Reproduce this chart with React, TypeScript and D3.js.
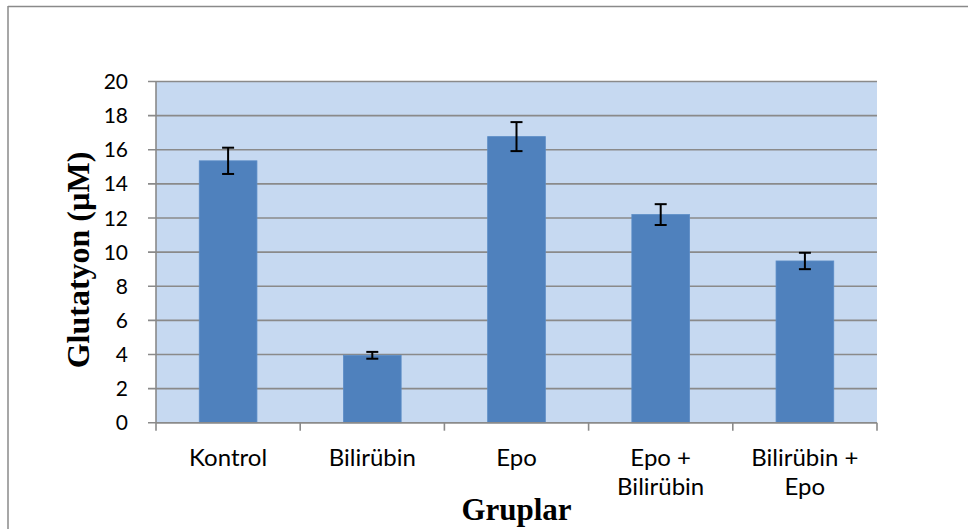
import React from "react";
import * as d3 from "d3";

const categories: string[][] = [["Kontrol"], ["Bilirübin"], ["Epo"], ["Epo +", "Bilirübin"], ["Bilirübin +", "Epo"]];
const values: number[] = [15.35, 3.95, 16.77, 12.2, 9.48];
const errors: number[] = [0.77, 0.2, 0.85, 0.61, 0.48];
const yTicks: number[] = [0, 2, 4, 6, 8, 10, 12, 14, 16, 18, 20];
const yTitle = "Glutatyon (µM)";
const xTitle = "Gruplar";

const W = 968, H = 529;
const plot = { left: 156, right: 877, top: 81.5, bottom: 422.7 };

export default function App() {
  const x = d3.scaleBand<number>().domain(categories.map((_, i) => i)).range([plot.left, plot.right]).paddingInner(0.6).paddingOuter(0.3);
  const xc = d3.scaleBand<number>().domain(categories.map((_, i) => i)).range([plot.left, plot.right]);
  const y = d3.scaleLinear().domain([0, 20]).range([plot.bottom, plot.top]);
  const labelFont = "Lato, 'Open Sans', sans-serif";
  const serif = "'Liberation Serif', 'Times New Roman', serif";
  const grey = "#8a8a8a";
  return (
    <svg width={W} height={H} style={{ position: "absolute", left: 0, top: 0, background: "#fff" }}>
      <line x1={8} y1={6.5} x2={W} y2={6.5} stroke="#8a8a8a" strokeWidth={1.5} />
      <line x1={8} y1={6} x2={8} y2={H} stroke="#8a8a8a" strokeWidth={1.5} />
      <rect x={plot.left} y={plot.top} width={plot.right - plot.left} height={plot.bottom - plot.top} fill="#C6D9F1" />
      {yTicks.map((t) => (
        <g key={t}>
          <line x1={plot.left - 8} x2={plot.right} y1={y(t)} y2={y(t)} stroke={grey} strokeWidth={1.6} />
          <text x={128} y={y(t)} dy="0.36em" textAnchor="end" fontFamily={labelFont} fontSize={21} fill="#000">{t}</text>
        </g>
      ))}
      {values.map((v, i) => (
        <rect key={i} x={x(i)!} y={y(v)} width={x.bandwidth()} height={y(0) - y(v)} fill="#4F81BD" stroke="#5b8cc6" strokeWidth={0.8} />
      ))}
      <line x1={plot.left} x2={plot.right} y1={y(0)} y2={y(0)} stroke={grey} strokeWidth={1.6} />
      <line x1={plot.left} x2={plot.left} y1={plot.top} y2={y(0)} stroke={grey} strokeWidth={1.6} />
      {categories.map((_, i) => (
        <line key={i} x1={xc(i)!} x2={xc(i)!} y1={y(0)} y2={y(0) + 8} stroke={grey} strokeWidth={1.6} />
      ))}
      <line x1={plot.right} x2={plot.right} y1={y(0)} y2={y(0) + 8} stroke={grey} strokeWidth={1.6} />
      {values.map((v, i) => {
        const cx = x(i)! + x.bandwidth() / 2;
        return (
          <g key={i} stroke="#000" strokeWidth={2}>
            <line x1={cx} x2={cx} y1={y(v + errors[i])} y2={y(v - errors[i])} />
            <line x1={cx - 6} x2={cx + 6} y1={y(v + errors[i])} y2={y(v + errors[i])} />
            <line x1={cx - 6} x2={cx + 6} y1={y(v - errors[i])} y2={y(v - errors[i])} />
          </g>
        );
      })}
      {categories.map((lines, i) => (
        <text key={i} textAnchor="middle" fontFamily={labelFont} fontSize={24} fill="#000">
          {lines.map((l, j) => (
            <tspan key={j} x={xc(i)! + xc.bandwidth() / 2} y={466 + j * 29}>{l}</tspan>
          ))}
        </text>
      ))}
      <text x={(plot.left + plot.right) / 2} y={520} textAnchor="middle" fontFamily={serif} fontWeight="bold" fontSize={31}>{xTitle}</text>
      <text transform={`translate(89,${260}) rotate(-90)`} textAnchor="middle" fontFamily={serif} fontWeight="bold" fontSize={32}>{yTitle}</text>
    </svg>
  );
}
